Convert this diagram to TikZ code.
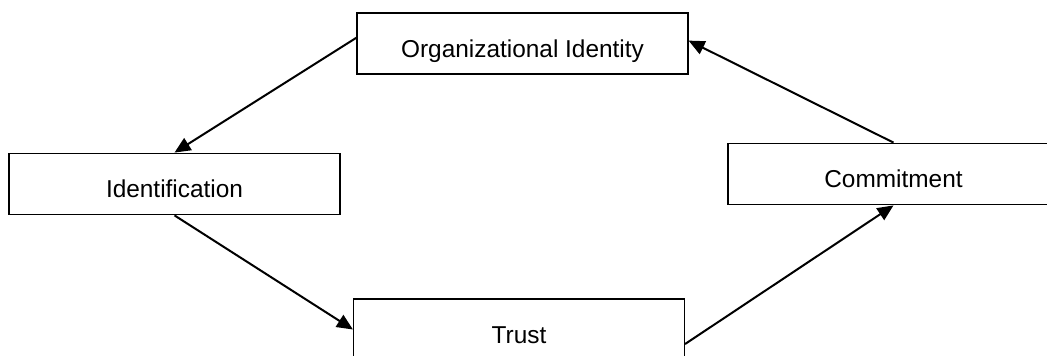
\documentclass[tikz,border=0pt]{standalone}
\usepackage{fontspec}
\setmainfont{Liberation Sans}
\usepackage{tikz}
\usetikzlibrary{arrows.meta,positioning}
\tikzstyle{construct} = [rectangle, minimum width=248pt, minimum height=46pt, text centered, draw=black, line width=1.1pt, font=\fontsize{18.3}{22}\selectfont, text height=21pt, text depth=0pt]
\tikzstyle{arrow} = [line width=1.5pt, -{Triangle[length=12pt,width=10.5pt]}, color=black]

\begin{document}
\begin{tikzpicture}[x=0.75pt,y=-0.75pt]
\useasboundingbox (0,0) rectangle (1047,356);
% Constructs
\node[construct] (orgid) at (522.5,43.5) {Organizational Identity};
\node[construct] (ident) at (174.5,184) {Identification};
\node[construct] (commit) at (893.5,174) {Commitment};
\node[construct] (trust) at (519,329.5) {Trust};

% Arrows
\draw[arrow] (orgid.178) -- (ident.north);
\draw[arrow] (ident.south) -- (trust.west);
\draw[arrow] (trust.-5) -- (commit.south);
\draw[arrow] (commit.north) -- (orgid.1);
\end{tikzpicture}
\end{document}
